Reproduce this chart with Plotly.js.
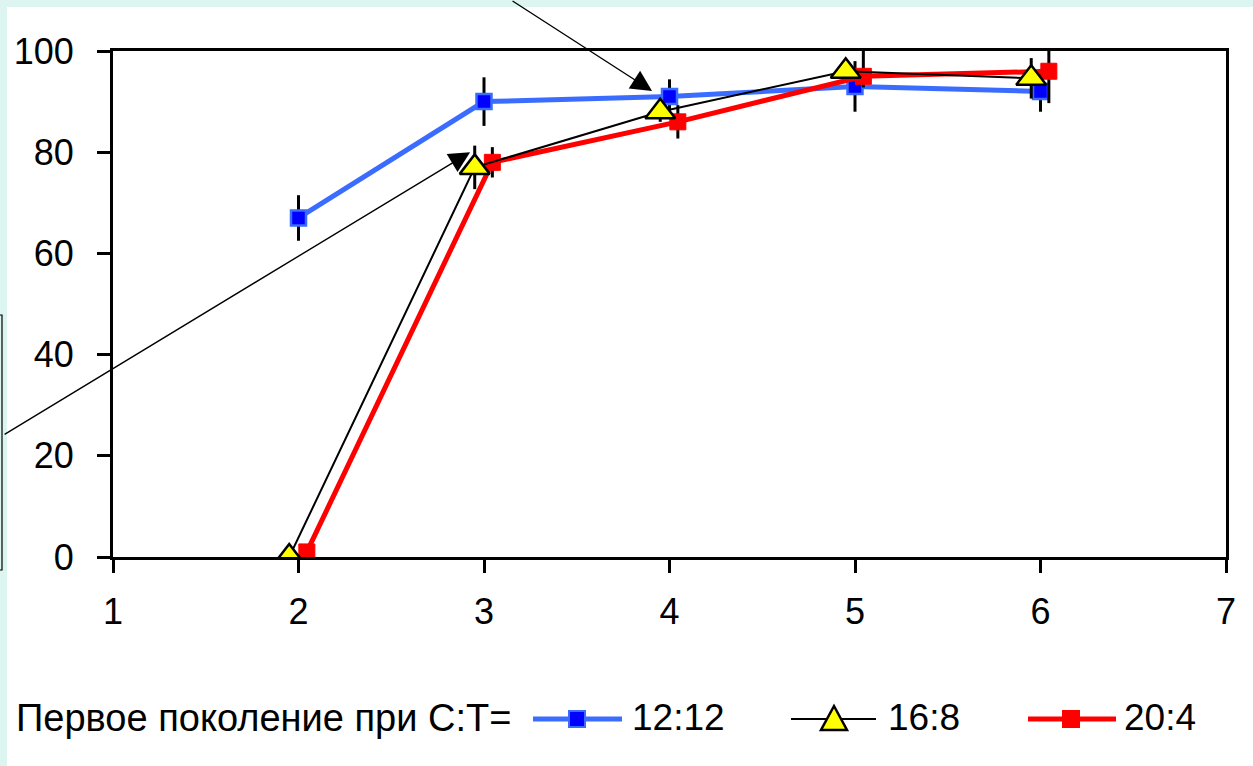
<!DOCTYPE html>
<html>
<head>
<meta charset="utf-8">
<script src="https://cdn.plot.ly/plotly-3.0.1.min.js"></script>
<style>
html,body{margin:0;padding:0;background:#dcf5f0;}
#chart{width:1253px;height:766px;}
</style>
</head>
<body>
<div id="chart"></div>
<script>
// ---- data ----
const xCats = [2, 3, 4, 5, 6];
const s1212 = [67, 90, 91, 93, 92];
const s168 = [0, 77, 88, 96, 94.6];
const s204 = [1, 78, 86, 95, 96];
const err1212 = [4.5, 4.8, 3.4, 5, 4];
const err168 = [0, 4.3, 2, 1, 4];
const err204Plus = [0, 3, 3.3, 6, 7];
const err204Minus = [0, 3, 3.3, 2.2, 6.3];
const seriesNames = ['12:12', '16:8', '20:4'];
const legendTitle = 'Первое поколение при С:Т=';
const xTicks = [1, 2, 3, 4, 5, 6, 7];
const yTicks = [0, 20, 40, 60, 80, 100];

// ---- layout helpers ----
const L = 113, T = 51, W = 1113, H = 506;
const px = p => (p - L) / W;
const py = p => (T + H - p) / H;
const FONT = 'Liberation Sans, Arial, sans-serif';

const offTri = -0.05, offRed = 0.045;

const traces = [
  {
    x: xCats, y: s1212, name: seriesNames[0], type: 'scatter', mode: 'lines+markers',
    line: {color: '#3a6cff', width: 5},
    marker: {symbol: 'square', size: 15, color: '#0000ff', line: {color: '#3a6cff', width: 2.5}},
    error_y: {type: 'data', array: err1212, visible: true, color: '#000', thickness: 3, width: 0}
  },
  {
    x: xCats.map(v => v + offTri), y: s168, name: seriesNames[1], type: 'scatter', mode: 'lines+markers',
    line: {color: '#000', width: 2},
    marker: {symbol: 'triangle-up', size: 26, color: '#ffff00', line: {color: '#000', width: 2.5}},
    error_y: {type: 'data', array: err168, visible: true, color: '#000', thickness: 3, width: 0}
  },
  {
    x: xCats.map(v => v + offRed), y: s204, name: seriesNames[2], type: 'scatter', mode: 'lines+markers',
    line: {color: '#ff0000', width: 5},
    marker: {symbol: 'square', size: 16, color: '#ff0000', line: {color: '#ff0000', width: 1}},
    error_y: {type: 'data', symmetric: false, array: err204Plus, arrayminus: err204Minus, visible: true, color: '#000', thickness: 3, width: 0}
  }
];
const data = [traces[0], traces[2], traces[1]];

const shapes = [
  {type: 'rect', xref: 'paper', yref: 'paper', x0: px(7), x1: px(1270), y0: py(7), y1: py(780),
   fillcolor: '#ffffff', line: {width: 0}, layer: 'below'},
  {type: 'rect', xref: 'paper', yref: 'paper', x0: px(-20), x1: px(2), y0: py(315), y1: py(570),
   fillcolor: 'rgba(0,0,0,0)', line: {color: '#000', width: 1.2}, layer: 'above'}
];
const annotations = [
  {x: 2.925, y: 80, xref: 'x', yref: 'y', ax: -467, ay: 283, axref: 'pixel', ayref: 'pixel',
   text: '', showarrow: true, arrowhead: 2, arrowsize: 3, arrowwidth: 1.4, arrowcolor: '#000'},
  {x: 3.906, y: 92.1, xref: 'x', yref: 'y', ax: -141, ay: -120,
   text: '', showarrow: true, arrowhead: 2, arrowsize: 3, arrowwidth: 1.4, arrowcolor: '#000'}
];

// ---- custom legend ----
const legY = 719;
annotations.push({xref: 'paper', yref: 'paper', x: px(14), y: py(legY - 1), xanchor: 'left', yanchor: 'middle',
  text: legendTitle, showarrow: false, font: {family: FONT, size: 38, color: '#000'}});
const legItems = [
  {x0: 533, x1: 622, mx: 577, tx: 630, color: '#3a6cff', w: 5, sym: 'sq', fill: '#0000ff', edge: '#3a6cff'},
  {x0: 791, x1: 876, mx: 834, tx: 886, color: '#000', w: 2, sym: 'tri', fill: '#ffff00', edge: '#000'},
  {x0: 1028, x1: 1116, mx: 1071, tx: 1122, color: '#ff0000', w: 5, sym: 'sq', fill: '#ff0000', edge: '#ff0000'}
];
legItems.forEach((it, i) => {
  shapes.push({type: 'line', xref: 'paper', yref: 'paper', x0: px(it.x0), x1: px(it.x1), y0: py(legY), y1: py(legY),
    line: {color: it.color, width: it.w}});
  if (it.sym === 'sq') {
    shapes.push({type: 'rect', xref: 'paper', yref: 'paper', x0: px(it.mx - 8), x1: px(it.mx + 8), y0: py(legY - 8), y1: py(legY + 8),
      fillcolor: it.fill, line: {color: it.edge, width: 2}});
  } else {
    const p = `M${px(it.mx - 13)},${py(legY + 11)} L${px(it.mx + 13)},${py(legY + 11)} L${px(it.mx)},${py(legY - 13)} Z`;
    shapes.push({type: 'path', xref: 'paper', yref: 'paper', path: p, fillcolor: it.fill, line: {color: it.edge, width: 2.5}});
  }
  annotations.push({xref: 'paper', yref: 'paper', x: px(it.tx), y: py(legY - 2), xanchor: 'left', yanchor: 'middle',
    text: seriesNames[i], showarrow: false, font: {family: FONT, size: 37, color: '#000'}});
});

const layout = {
  width: 1253, height: 766,
  margin: {l: L, r: 1253 - L - W, t: T, b: 766 - T - H, pad: 0},
  paper_bgcolor: '#dcf5f0',
  plot_bgcolor: 'rgba(0,0,0,0)',
  showlegend: false,
  font: {family: FONT, size: 36, color: '#000'},
  xaxis: {range: [1, 7], tickvals: xTicks, ticktext: xTicks.map(String), showgrid: false, zeroline: false,
    showline: true, linecolor: '#000', linewidth: 3, mirror: true,
    ticks: 'outside', ticklen: 13, tickwidth: 3, tickcolor: '#000', ticklabelstandoff: 8,
    tickfont: {family: FONT, size: 36, color: '#000'}},
  yaxis: {range: [0, 100], tickvals: yTicks, ticktext: yTicks.map(String), showgrid: false, zeroline: false,
    showline: true, linecolor: '#000', linewidth: 3, mirror: true,
    ticks: 'outside', ticklen: 13, tickwidth: 3, tickcolor: '#000', ticklabelstandoff: 16,
    tickfont: {family: FONT, size: 36, color: '#000'}},
  shapes: shapes,
  annotations: annotations
};

Plotly.newPlot('chart', data, layout, {displayModeBar: false, staticPlot: true});
</script>
</body>
</html>
